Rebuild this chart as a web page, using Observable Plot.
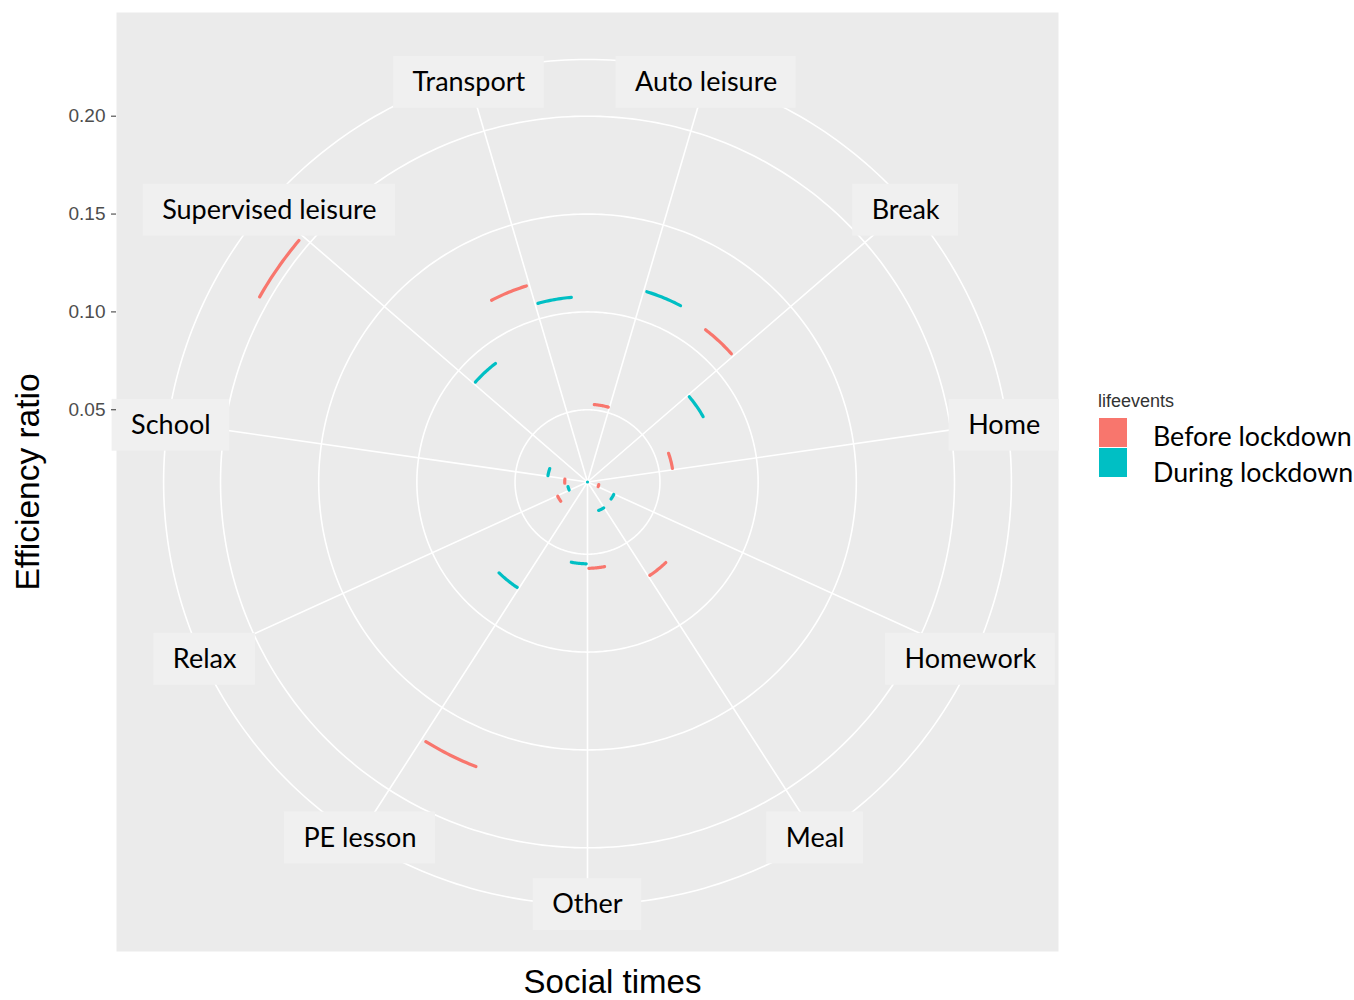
<!DOCTYPE html>
<html>
<head>
<meta charset="utf-8">
<script src="https://cdn.jsdelivr.net/npm/d3@7"></script>
<script src="https://cdn.jsdelivr.net/npm/@observablehq/plot@0.6"></script>
<style>
  body { margin: 0; background: #fff; }
  #wrap { position: relative; width: 1354px; height: 1000px; }
  .lg { position: absolute; white-space: nowrap; }
  .lg-title { font-family: "Liberation Sans", Arial, sans-serif; font-size: 18px; color: #333; }
  .lg-key { width: 28px; height: 29px; }
  .lg-label { font-family: Lato, sans-serif; font-size: 26.8px; color: #000; line-height: 1; }
</style>
</head>
<body>
<div id="wrap"></div>
<script>
// ---- data ----
const categories = ["Auto leisure", "Break", "Home", "Homework", "Meal", "Other",
  "PE lesson", "Relax", "School", "Supervised leisure", "Transport"];
const groups = ["Before lockdown", "During lockdown"];
const beforeValues = [0.0528, 0.1114, 0.0569, 0.0190, 0.0704, 0.0572, 0.1692, 0.0299, 0.0247, 0.2050, 0.1180];
const duringValues = [0.1149, 0.0808, 0.0131, 0.0279, 0.0287, 0.0549, 0.0778, 0.0233, 0.0335, 0.0897, 0.1078];
const yTicks = [0.05, 0.10, 0.15, 0.20];
const colors = ["#F8766D", "#00BFC4"];
const legendTitle = "lifeevents";
const xTitle = "Social times";
const yTitle = "Efficiency ratio";

// ---- layout ----
const W = 1354, H = 1000, mL = 116, mR = 296, mT = 12, mB = 49;
const pw = W - mL - mR;
const n = categories.length;
const all = beforeValues.concat(duringValues);
const rMin = d3.min(all), rMax = d3.max(all);
const ppu = 0.4 * pw / (rMax - rMin);          // pixels per data unit (ggplot coord_polar: r -> [0, 0.4])
const rOuter = 0.45 / 0.4 * (rMax - rMin);      // outer ring at 0.45
const half = pw / 2 / ppu;
const xDomain = [-half, half];
const yDomain = [rMin - half, rMin + half];     // square panel in data space

const theta = pos => (pos - 0.5) / n * 2 * Math.PI;   // discrete position (1-based) -> angle clockwise from top
const polarR = (pos, r) => ({x: r * Math.sin(theta(pos)), y: rMin + r * Math.cos(theta(pos))});

// circles (major r breaks + outer ring)
const circlePts = [];
yTicks.map(t => t - rMin).concat([rOuter]).forEach((r, k) => {
  for (let s = 0; s <= 360; s++) {
    const p = polarR(0.5 + s / 360 * n, r);
    circlePts.push({id: k, x: p.x, y: p.y});
  }
});
// spokes
const spokePts = [];
categories.forEach((c, i) => {
  spokePts.push({id: c, ...polarR(i + 1, 0)});
  spokePts.push({id: c, ...polarR(i + 1, rOuter)});
});
// arcs
const dodge = 0.1875, halfW = 0.16;
const arcPts = [];
categories.forEach((c, i) => {
  [beforeValues[i], duringValues[i]].forEach((v, g) => {
    const pc = i + 1 + (g === 0 ? -dodge : dodge);
    for (let s = 0; s <= 16; s++) {
      const p = polarR(pc - halfW + 2 * halfW * s / 16, v - rMin);
      arcPts.push({id: c + g, group: groups[g], x: p.x, y: p.y});
    }
  });
});
// labels with boxes
const labelSize = 27;
const ctx = document.createElement("canvas").getContext("2d");
ctx.font = labelSize + "px Lato";
const labelData = categories.map((c, i) => {
  const p = polarR(i + 1, rOuter * 0.993);
  const w = ctx.measureText(c).width;
  const hw = (w / 2 + 19) / ppu, hh = 26 / ppu;
  return {label: c, x: p.x, y: p.y, x1: p.x - hw, x2: p.x + hw, y1: p.y - hh, y2: p.y + hh};
});

const chart = Plot.plot({
  width: W, height: H,
  marginLeft: mL, marginRight: mR, marginTop: mT, marginBottom: mB,
  x: {domain: xDomain, axis: null},
  y: {domain: yDomain, axis: null},
  color: {domain: groups, range: colors},
  style: {fontFamily: "'Liberation Sans', Arial, sans-serif", background: "white", color: "black"},
  marks: [
    Plot.frame({fill: "#EBEBEB", stroke: "none"}),
    Plot.line(circlePts, {x: "x", y: "y", z: "id", stroke: "white", strokeWidth: 1.6, curve: "linear"}),
    Plot.line(spokePts, {x: "x", y: "y", z: "id", stroke: "white", strokeWidth: 1.6}),
    Plot.rect(labelData, {x1: "x1", x2: "x2", y1: "y1", y2: "y2", dy: 3, fill: "#F0F0F0"}),
    Plot.text(labelData, {x: "x", y: "y", dy: 3, text: "label", fontSize: labelSize, fontFamily: "Lato", fill: "black"}),
    Plot.line(arcPts, {x: "x", y: "y", z: "id", stroke: "group", strokeWidth: 3.2, strokeLinecap: "round"}),
    Plot.axisY({ticks: yTicks, tickFormat: d3.format(".2f"), tickSize: 5, tickPadding: 6,
      fontSize: 19, fill: "#4D4D4D", stroke: "#333333", label: null}),
    Plot.text([yTitle], {frameAnchor: "left", dx: -88, rotate: -90, textAnchor: "middle", lineAnchor: "middle",
      fontSize: 33.5, fill: "black"}),
    Plot.text([xTitle], {frameAnchor: "bottom", dx: 25, dy: 31, textAnchor: "middle", lineAnchor: "middle",
      fontSize: 33, fill: "black"})
  ]
});
const wrap = document.getElementById("wrap");
wrap.appendChild(chart);

// legend
const addDiv = (cls, css, text) => {
  const d = document.createElement("div");
  d.className = "lg " + cls;
  Object.assign(d.style, css);
  if (text) d.textContent = text;
  wrap.appendChild(d);
};
addDiv("lg-title", {left: "1098px", top: "391px"}, legendTitle);
groups.forEach((g, k) => {
  addDiv("lg-key", {left: "1099px", top: (418 + 30 * k) + "px", background: colors[k]});
  addDiv("lg-label", {left: "1153px", top: (423 + 36 * k) + "px"}, g);
});
</script>
</body>
</html>
